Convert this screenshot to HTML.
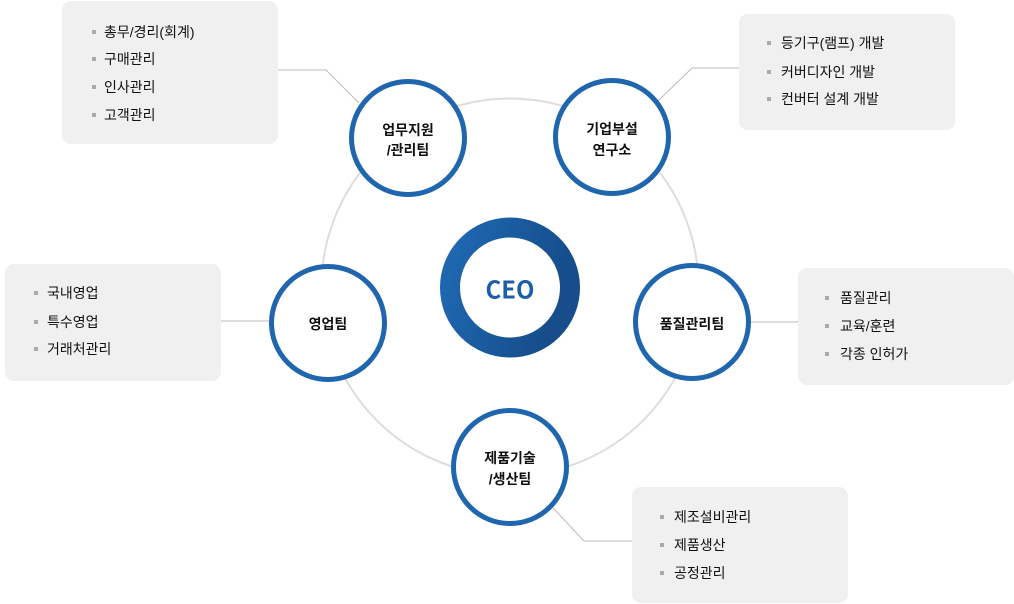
<!DOCTYPE html>
<html>
<head>
<meta charset="utf-8">
<style>
  html,body{margin:0;padding:0;background:#fff;}
  body{width:1014px;height:604px;overflow:hidden;}
  svg{display:block;}
  .nt{font-family:"Liberation Sans","Noto Sans CJK KR",sans-serif;font-size:14px;font-weight:bold;fill:#111;}
  .lt{font-family:"Liberation Sans","Noto Sans CJK KR",sans-serif;font-size:14px;fill:#111;}
</style>
</head>
<body>
<svg width="1014" height="604" viewBox="0 0 1014 604" xmlns="http://www.w3.org/2000/svg">
  <defs>
    <linearGradient id="g" x1="0" y1="0" x2="1" y2="0.3">
      <stop offset="0" stop-color="#1f69b3"/>
      <stop offset="1" stop-color="#164d8a"/>
    </linearGradient>
  </defs>

  <!-- big gray circle -->
  <circle cx="510" cy="287" r="188.5" fill="none" stroke="#dddddd" stroke-width="2"/>

  <!-- connectors -->
  <g fill="none" stroke="#bbbbbb" stroke-width="1">
    <polyline points="278,70 326,70 359,103"/>
    <polyline points="739,68 692,68 658,101"/>
    <polyline points="221,321 269,321"/>
    <polyline points="750,322 798,322"/>
    <polyline points="553,508 584,541 632,541"/>
  </g>

  <!-- boxes -->
  <g fill="#f0f0f0">
    <rect x="62" y="1" width="216" height="143" rx="9"/>
    <rect x="739" y="14" width="216" height="116" rx="9"/>
    <rect x="5" y="264" width="216" height="117" rx="9"/>
    <rect x="798" y="268" width="216" height="117" rx="9"/>
    <rect x="632" y="487" width="216" height="116" rx="9"/>
  </g>

  <!-- bullets -->
  <g fill="#aaaaaa">
    <rect x="92" y="30" width="4" height="4"/>
    <rect x="92" y="57" width="4" height="4"/>
    <rect x="92" y="85" width="4" height="4"/>
    <rect x="92" y="113" width="4" height="4"/>

    <rect x="767" y="41" width="4" height="4"/>
    <rect x="767" y="70" width="4" height="4"/>
    <rect x="767" y="97" width="4" height="4"/>

    <rect x="34" y="291" width="4" height="4"/>
    <rect x="34" y="320" width="4" height="4"/>
    <rect x="34" y="347" width="4" height="4"/>

    <rect x="825" y="296" width="4" height="4"/>
    <rect x="825" y="324" width="4" height="4"/>
    <rect x="825" y="352" width="4" height="4"/>

    <rect x="660" y="515" width="4" height="4"/>
    <rect x="660" y="543" width="4" height="4"/>
    <rect x="660" y="571" width="4" height="4"/>
  </g>

  <!-- list text -->
  <g class="lt" dominant-baseline="central">
    <text x="104" y="32">총무/경리(회계)</text>
    <text x="104" y="59">구매관리</text>
    <text x="104" y="87">인사관리</text>
    <text x="104" y="115">고객관리</text>

    <text x="781" y="43">등기구(램프) 개발</text>
    <text x="781" y="72">커버디자인 개발</text>
    <text x="781" y="99">컨버터 설계 개발</text>

    <text x="47" y="293">국내영업</text>
    <text x="47" y="322">특수영업</text>
    <text x="47" y="349">거래처관리</text>

    <text x="840" y="298">품질관리</text>
    <text x="840" y="326">교육/훈련</text>
    <text x="840" y="354">각종 인허가</text>

    <text x="674" y="517">제조설비관리</text>
    <text x="674" y="545">제품생산</text>
    <text x="674" y="573">공정관리</text>
  </g>

  <!-- CEO -->
  <circle cx="510" cy="287.5" r="60" fill="none" stroke="url(#g)" stroke-width="20"/>
  <text x="510" y="288" text-anchor="middle" dominant-baseline="central" font-family="'Noto Sans CJK KR','Liberation Sans',sans-serif" font-size="24" font-weight="bold" fill="#1c5fa8">CEO</text>

  <!-- nodes -->
  <g fill="#ffffff" stroke="#1f66ae" stroke-width="5">
    <circle cx="408" cy="138" r="56.5"/>
    <circle cx="612" cy="137" r="56.5"/>
    <circle cx="328" cy="323" r="56.5"/>
    <circle cx="692" cy="322" r="56.5"/>
    <circle cx="510" cy="467" r="56.5"/>
  </g>

  <g class="nt" text-anchor="middle" dominant-baseline="central">
    <text x="408" y="130">업무지원</text>
    <text x="408" y="150">/관리팀</text>

    <text x="612" y="129">기업부설</text>
    <text x="612" y="150">연구소</text>

    <text x="328" y="324">영업팀</text>

    <text x="692" y="324">품질관리팀</text>

    <text x="510" y="458">제품기술</text>
    <text x="510" y="479">/생산팀</text>
  </g>
</svg>
</body>
</html>
